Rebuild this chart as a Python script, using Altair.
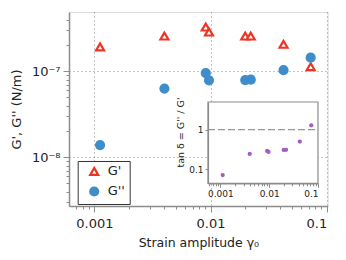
import altair as alt
import pandas as pd

# ---- data ----
strain = [0.00112, 0.00401, 0.0091, 0.0097, 0.0199, 0.0222, 0.0425, 0.0728]
g_storage = [1.92e-7, 2.57e-7, 3.27e-7, 2.86e-7, 2.57e-7, 2.57e-7, 2.06e-7, 1.13e-7]
g_loss = [1.39e-8, 6.3e-8, 9.55e-8, 7.86e-8, 7.9e-8, 8.0e-8, 1.03e-7, 1.44e-7]
series_names = ["G'", "G''"]

x_labels_main = [0.001, 0.01, 0.1]
y_labels_main = [1e-8, 1e-7]
x_labels_inset = [0.001, 0.01, 0.1]
y_labels_inset = [0.1, 1]

main_df = pd.DataFrame({
    "strain": strain + strain,
    "modulus": g_storage + g_loss,
    "series": [series_names[0]] * len(strain) + [series_names[1]] * len(strain),
})
inset_df = pd.DataFrame({
    "strain": strain,
    "tan": [l / s for l, s in zip(g_loss, g_storage)],
})

# domains
MX = [0.000605, 0.102]
MY = [2.72e-9, 4.89e-7]
IX = [0.00056, 0.1]
IY = [0.045, 4.9]
bounds_df = pd.DataFrame({"x0": [IX[0]], "x1": [IX[1]], "y0": [IY[0]], "y1": [IY[1]], "one": [1.0]})

W, H = 258.7, 194

def decade_ticks(lo, hi):
    out = []
    for e in range(-10, 1):
        for k in range(1, 10):
            v = k * 10.0 ** e
            if lo * 0.999 <= v <= hi * 1.001:
                out.append(float(f"{v:.3g}"))
    return out

MAJ = "abs(log(datum.value)/LN10 - round(log(datum.value)/LN10)) < 0.001"
SUP = "['⁰','¹','²','³','⁴','⁵','⁶','⁷','⁸','⁹']"
GRAY = "#8c8c8c"
FONT = "DejaVu Sans"

def cond(v_major, v_minor):
    return {"condition": {"test": MAJ, "value": v_major}, "value": v_minor}

main_x_axis = alt.Axis(
    orient="bottom", values=decade_ticks(*MX),
    labelExpr=f"{MAJ} ? format(datum.value, '~g') : ''",
    tickSize=cond(6, 3), gridOpacity=cond(1, 0), gridDash=[1, 3], gridColor="#888",
    tickColor=GRAY, domainColor=GRAY, domainWidth=1.5,
    labelFont=FONT, labelFontSize=13, labelColor="#222", labelPadding=6,
    title="Strain amplitude γ₀", titleFont=FONT, titleFontSize=12.5,
    titleFontWeight="normal", titleColor="#222", titlePadding=6,
)
main_y_axis = alt.Axis(
    orient="left", values=decade_ticks(*MY),
    labelExpr=f"{MAJ} ? '10⁻' + {SUP}[-round(log(datum.value)/LN10)] : ''",
    tickSize=cond(6, 3), gridOpacity=cond(1, 0), gridDash=[1, 3], gridColor="#888",
    tickColor=GRAY, domainColor=GRAY, domainWidth=1.5,
    labelFont=FONT, labelFontSize=13, labelColor="#222", labelPadding=3,
    title="G', G'' (N/m)", titleFont=FONT, titleFontSize=13,
    titleFontWeight="normal", titleColor="#222", titlePadding=8,
)

main = alt.Chart(main_df).mark_point(opacity=1, size=64, strokeWidth=2.2).encode(
    x=alt.X("strain:Q", scale=alt.Scale(type="log", domain=MX, nice=False), axis=main_x_axis),
    y=alt.Y("modulus:Q", scale=alt.Scale(type="log", domain=MY, nice=False), axis=main_y_axis),
    stroke=alt.Stroke("series:N", scale=alt.Scale(domain=series_names, range=["#ee3424", "#3f8dc9"]), title=None),
    fill=alt.Fill("series:N", scale=alt.Scale(domain=series_names, range=["#ffffff", "#3f8dc9"]), title=None),
    shape=alt.Shape("series:N", scale=alt.Scale(domain=series_names, range=["triangle-up", "circle"]), title=None,
                    legend=alt.Legend(orient="none", legendX=8.7, legendY=149, strokeColor="#333",
                                      padding=4, rowPadding=3, titlePadding=0, labelFont=FONT, labelFontSize=13,
                                      labelColor="#222", symbolStrokeWidth=2.2, symbolSize=64,
                                      symbolOffset=6, labelOffset=7, fillColor="white")),
)

ix_scale = alt.Scale(type="log", domain=IX, nice=False, range=[139, 249])
iy_scale = alt.Scale(type="log", domain=IY, nice=False, range=[171.3, 90])
inset_x_axis = alt.Axis(
    orient="bottom", offset=-22.7, values=decade_ticks(*IX),
    labelExpr=f"{MAJ} ? format(datum.value, '~g') : ''",
    tickSize=cond(4, 2.5), gridOpacity=cond(1, 0), gridDash=[1, 2], gridColor="#999",
    tickColor=GRAY, domainColor=GRAY, domainWidth=1.2, zindex=1,
    labelFont=FONT, labelFontSize=9, labelColor="#222", labelPadding=2, title=None,
)
inset_y_axis = alt.Axis(
    orient="left", offset=-139, values=y_labels_inset,
    labelExpr="format(datum.value, '~g')",
    tickSize=3, gridDash=[1, 2], gridColor="#999",
    tickColor=GRAY, domainColor=GRAY, domainWidth=1.2, zindex=1,
    labelFont=FONT, labelFontSize=9, labelColor="#222", labelPadding=2,
    title="tan δ = G'' / G'", titleFont=FONT, titleFontSize=9.5,
    titleFontWeight="normal", titleColor="#222", titlePadding=3, titleY=120,
)

frame = alt.Chart(bounds_df).mark_rect(fill="white", stroke=GRAY, strokeWidth=1.2).encode(
    x=alt.X("x0:Q", scale=ix_scale, axis=inset_x_axis), x2="x1:Q",
    y=alt.Y("y0:Q", scale=iy_scale, axis=inset_y_axis), y2="y1:Q",
)
unity = alt.Chart(bounds_df).mark_rule(color="#999", strokeDash=[7, 3], strokeWidth=1.3).encode(
    x=alt.X("x0:Q", scale=ix_scale, axis=inset_x_axis), x2="x1:Q",
    y=alt.Y("one:Q", scale=iy_scale, axis=inset_y_axis),
)
pts = alt.Chart(inset_df).mark_circle(size=18, color="#a55cc0", opacity=1).encode(
    x=alt.X("strain:Q", scale=ix_scale, axis=inset_x_axis),
    y=alt.Y("tan:Q", scale=iy_scale, axis=inset_y_axis),
)
inset = alt.layer(frame, unity, pts)

chart = alt.layer(main, inset).resolve_scale(x="independent", y="independent").properties(
    width=W, height=H, autosize="none",
    padding={"left": 61, "top": 4, "right": 10, "bottom": 50},
).configure_view(stroke=GRAY, strokeWidth=1.5).configure(background="white")

chart.save("out.html", embed_options={"renderer": "svg", "actions": False})
